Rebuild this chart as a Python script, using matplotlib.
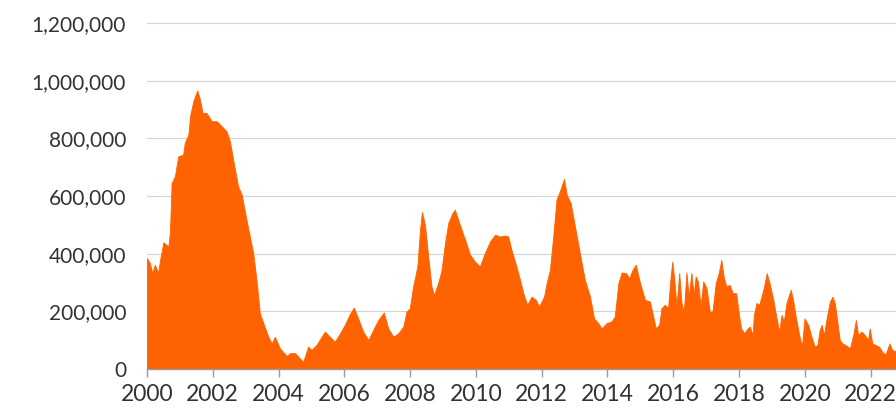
import matplotlib
matplotlib.use('Agg')
import matplotlib.pyplot as plt
from matplotlib.ticker import FuncFormatter

# readings: decimal year and value (thousands)
years = [
    2000.00, 2000.09, 2000.16, 2000.24, 2000.34, 2000.40, 2000.50, 2000.65, 2000.70, 2000.75,
    2000.85, 2000.95, 2001.10, 2001.15, 2001.26, 2001.31, 2001.41, 2001.53, 2001.61, 2001.69,
    2001.81, 2001.97, 2002.12, 2002.27, 2002.42, 2002.52, 2002.62, 2002.77, 2002.88, 2003.03,
    2003.23, 2003.33, 2003.43, 2003.54, 2003.69, 2003.79, 2003.89, 2004.04, 2004.25, 2004.35,
    2004.50, 2004.65, 2004.75, 2004.90, 2005.00, 2005.15, 2005.31, 2005.41, 2005.56, 2005.71,
    2005.87, 2006.02, 2006.17, 2006.29, 2006.42, 2006.57, 2006.73, 2006.88, 2007.03, 2007.20,
    2007.33, 2007.49, 2007.64, 2007.79, 2007.89, 2007.99, 2008.09, 2008.22, 2008.30, 2008.36,
    2008.45, 2008.55, 2008.65, 2008.73, 2008.85, 2008.95, 2009.06, 2009.16, 2009.29, 2009.36,
    2009.51, 2009.67, 2009.82, 2009.97, 2010.12, 2010.27, 2010.43, 2010.58, 2010.73, 2010.88,
    2010.98, 2011.08, 2011.23, 2011.34, 2011.44, 2011.56, 2011.69, 2011.82, 2011.92, 2012.07,
    2012.15, 2012.25, 2012.35, 2012.45, 2012.55, 2012.68, 2012.76, 2012.88, 2013.01, 2013.16,
    2013.31, 2013.47, 2013.59, 2013.72, 2013.82, 2013.97, 2014.12, 2014.22, 2014.33, 2014.43,
    2014.56, 2014.66, 2014.76, 2014.86, 2014.99, 2015.14, 2015.29, 2015.39, 2015.47, 2015.57,
    2015.64, 2015.74, 2015.84, 2015.92, 2015.97, 2016.03, 2016.10, 2016.18, 2016.25, 2016.32,
    2016.40, 2016.47, 2016.55, 2016.62, 2016.68, 2016.75, 2016.83, 2016.91, 2017.01, 2017.11,
    2017.19, 2017.29, 2017.38, 2017.46, 2017.53, 2017.61, 2017.71, 2017.81, 2017.91, 2017.99,
    2018.06, 2018.16, 2018.26, 2018.33, 2018.41, 2018.45, 2018.53, 2018.61, 2018.68, 2018.76,
    2018.84, 2018.94, 2019.04, 2019.14, 2019.22, 2019.29, 2019.36, 2019.44, 2019.52, 2019.57,
    2019.64, 2019.74, 2019.84, 2019.91, 2019.99, 2020.10, 2020.20, 2020.30, 2020.38, 2020.45,
    2020.51, 2020.58, 2020.67, 2020.76, 2020.84, 2020.91, 2020.98, 2021.06, 2021.14, 2021.24,
    2021.37, 2021.47, 2021.55, 2021.62, 2021.72, 2021.82, 2021.92, 2021.97, 2022.05, 2022.15,
    2022.25, 2022.35, 2022.45, 2022.57, 2022.65, 2022.72, 2022.80,
]
values_k = [
    385, 368, 333, 362, 334, 379, 440, 425, 478, 646,
    669, 738, 744, 785, 814, 878, 930, 967, 936, 889,
    889, 860, 860, 843, 825, 791, 727, 634, 605, 515,
    402, 310, 194, 159, 112, 89, 112, 72, 45, 55,
    55, 37, 25, 78, 66, 83, 112, 130, 112, 95,
    124, 155, 191, 213, 176, 130, 101, 136, 170, 196,
    142, 112, 124, 147, 199, 211, 286, 356, 483, 545,
    501, 391, 286, 257, 298, 340, 437, 507, 542, 553,
    501, 449, 397, 373, 356, 402, 443, 466, 460, 463,
    460, 414, 356, 310, 263, 223, 251, 240, 217, 251,
    298, 344, 460, 588, 617, 660, 605, 576, 495, 402,
    310, 251, 176, 159, 141, 159, 165, 182, 298, 335,
    333, 315, 344, 362, 298, 240, 234, 182, 141, 153,
    211, 223, 211, 321, 373, 310, 217, 333, 229, 199,
    335, 251, 333, 257, 321, 304, 217, 304, 281, 199,
    199, 298, 333, 379, 321, 286, 292, 263, 263, 194,
    141, 124, 141, 147, 118, 188, 229, 223, 251, 286,
    333, 292, 240, 176, 130, 188, 165, 229, 257, 275,
    240, 170, 112, 78, 176, 153, 112, 78, 83, 136,
    153, 118, 182, 234, 251, 229, 170, 101, 89, 83,
    72, 118, 170, 118, 130, 118, 101, 141, 89, 83,
    78, 60, 49, 89, 67, 63, 60,
]
values = [v * 1000 for v in values_k]

x_ticks = list(range(2000, 2023, 2))
y_ticks = [0, 200000, 400000, 600000, 800000, 1000000, 1200000]

plt.rcParams['font.family'] = ['Lato', 'DejaVu Sans']

fig = plt.figure(figsize=(8.96, 4.08), dpi=100)
ax = fig.add_axes([0.164, 0.0956, 0.836, 0.8475])

ax.fill_between(years, values, 0, color='#FF6200', linewidth=0.6, edgecolor='#FF6200', zorder=3)

ax.set_xlim(2000, 2022.77)
ax.set_ylim(0, 1200000)
ax.set_xticks(x_ticks)
ax.set_yticks(y_ticks)
ax.yaxis.set_major_formatter(FuncFormatter(lambda v, p: f"{int(v):,}"))

ax.grid(axis='y', color='#d4d4d4', linewidth=0.8, zorder=0)
ax.set_axisbelow(True)
for s in ['top', 'right', 'left']:
    ax.spines[s].set_visible(False)
ax.spines['bottom'].set_color('#999999')
ax.spines['bottom'].set_linewidth(1.0)
ax.spines['bottom'].set_zorder(4)

ax.tick_params(axis='x', colors='#999999', length=6, width=1, labelsize=16.5,
               labelcolor='#333333', pad=5)
ax.tick_params(axis='y', length=0, labelsize=15, labelcolor='#333333', pad=15)

fig.savefig('out.png', dpi=100)
